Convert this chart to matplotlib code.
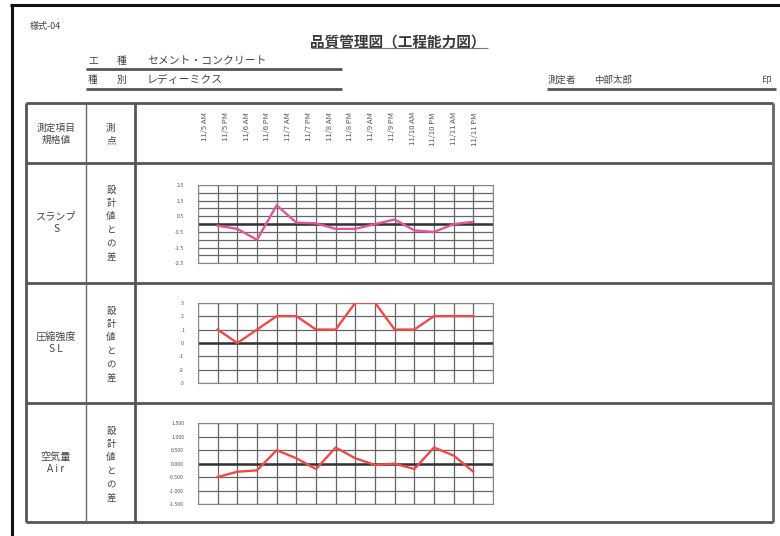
import matplotlib
matplotlib.use("Agg")
import matplotlib.pyplot as plt
from matplotlib.lines import Line2D

plt.rcParams['font.family'] = ['Noto Sans CJK JP', 'DejaVu Sans']

# ---- data ----
dates = ["11/5 AM", "11/5 PM", "11/6 AM", "11/6 PM", "11/7 AM", "11/7 PM",
         "11/8 AM", "11/8 PM", "11/9 AM", "11/9 PM", "11/10 AM", "11/10 PM",
         "11/11 AM", "11/11 PM"]
slump = [-0.1, -0.3, -1.0, 1.2, 0.1, 0.05, -0.3, -0.3, 0.0, 0.3, -0.4, -0.5, 0.0, 0.15]
strength = [1, 0, 1, 2, 2, 1, 1, 3, 3, 1, 1, 2, 2, 2]
air = [-0.5, -0.3, -0.25, 0.5, 0.2, -0.2, 0.6, 0.2, -0.05, 0.0, -0.2, 0.6, 0.3, -0.3]

slump_ticks = [2.5, 1.5, 0.5, -0.5, -1.5, -2.5]
slump_labels = ["2.5", "1.5", "0.5", "-0.5", "-1.5", "-2.5"]
strength_ticks = [3, 2, 1, 0, -1, -2, -3]
strength_labels = ["3", "2", "1", "0", "-1", "-2", "-3"]
air_ticks = [1.5, 1.0, 0.5, 0.0, -0.5, -1.0, -1.5]
air_labels = ["1.500", "1.000", "0.500", "0.000", "-0.500", "-1.000", "-1.500"]

row_items = ["スランプ\nS", "圧縮強度\nS L", "空気量\nA i r"]
row_sub = "設計値との差"

W, H = 780, 536
fig = plt.figure(figsize=(W / 100, H / 100), dpi=100)
fig.patch.set_facecolor("white")


def fx(x):
    return x / W


def fy(y):
    return 1 - y / H


def hline(x0, x1, y, lw=1.0, color="#555555"):
    fig.add_artist(Line2D([fx(x0), fx(x1)], [fy(y), fy(y)], lw=lw, color=color,
                          transform=fig.transFigure, solid_capstyle="butt"))


def vline(x, y0, y1, lw=1.0, color="#555555"):
    fig.add_artist(Line2D([fx(x), fx(x)], [fy(y0), fy(y1)], lw=lw, color=color,
                          transform=fig.transFigure, solid_capstyle="butt"))


def txt(x, y, s, size=6, **kw):
    kw.setdefault("ha", "left")
    kw.setdefault("va", "center")
    kw.setdefault("color", "#444444")
    fig.text(fx(x), fy(y), s, fontsize=size, **kw)


# outer frame (top and left)
hline(10, 780, 5, lw=2.2, color="#111111")
vline(12, 4, 536, lw=2.2, color="#111111")

# header texts
txt(30, 27, "様式-04", size=6.5)
txt(398, 42, "品質管理図（工程能力図）", size=10.5, ha="center", fontweight="bold", color="#3a3a3a")
hline(311, 488, 48, lw=0.8, color="#777777")
txt(88, 61, "工", size=7)
txt(117, 61, "種", size=7)
txt(147, 61, "セメント・コンクリート", size=7.8)
hline(86, 342, 69, lw=2.0, color="#555555")
txt(88, 80, "種", size=7)
txt(117, 80, "別", size=7)
txt(147, 80, "レディーミクス", size=7.8)
hline(86, 342, 89, lw=2.0, color="#555555")
txt(548, 80, "測定者", size=6.8)
txt(594, 80, "中部太郎", size=6.8)
txt(762, 80, "印", size=6.8)
hline(547, 776, 89, lw=2.0, color="#555555")

# table grid
tl, tr, tt, tb = 26, 773, 103, 522
rows = [103, 163, 283, 403, 522]
for y in rows:
    hline(tl, tr, y, lw=2.0, color="#555555")
vline(tl, tt, tb, lw=2.0, color="#555555")
vline(tr, tt, tb, lw=2.0, color="#666666")
vline(86, tt, tb, lw=1.0, color="#666666")
vline(135, tt, tb, lw=2.0, color="#555555")

# header cells
txt(56, 134, "測定項目\n規格値", size=7, ha="center", linespacing=1.3)
txt(111, 134, "測\n点", size=7, ha="center", linespacing=1.3)

# date header (rotated) via axes with its own scale
hax = fig.add_axes([fx(184.2), fy(160), fx(311.5), fy(108) - fy(160)])
hax.set_xlim(0, 15)
hax.set_ylim(0, 1)
hax.axis("off")
for i, d in enumerate(dates):
    hax.text(i + 1, 0.92, d, rotation=90, ha="center", va="top", fontsize=5.6,
             color="#555555")

# row labels
row_centers = [223, 343, 463]
sub_top = [190, 311, 431]
for rc, item, st in zip(row_centers, row_items, sub_top):
    txt(56, rc, item, size=7.3, ha="center", linespacing=1.35)
    for k, ch in enumerate(row_sub):
        txt(111, st + k * 13.4, ch, size=6.8, ha="center")

# charts
chart_specs = [
    (185, 263.3, slump, slump_ticks, slump_labels, (-2.5, 2.5), 0.5, "#e0559c"),
    (302.7, 383.3, strength, strength_ticks, strength_labels, (-3, 3), 1.0, "#ee4a4a"),
    (423.3, 504, air, air_ticks, air_labels, (-1.5, 1.5), 0.5, "#ee4a4a"),
]
xpos = list(range(1, len(dates) + 1))
for top, bot, vals, ticks, labels, ylim, step, col in chart_specs:
    ax = fig.add_axes([fx(198), fy(bot), fx(493) - fx(198), fy(top) - fy(bot)])
    ax.set_xlim(0, 15)
    ax.set_ylim(*ylim)
    ax.set_xticks(range(0, 16))
    ax.set_xticklabels([])
    n = int(round((ylim[1] - ylim[0]) / step))
    ax.set_yticks([ylim[0] + k * step for k in range(n + 1)], minor=True)
    ax.set_yticks(ticks)
    ax.set_yticklabels(labels)
    ax.tick_params(axis="both", which="both", length=0)
    ax.tick_params(axis="y", labelsize=3.8, labelcolor="#555555", pad=10)
    ax.grid(True, which="major", axis="x", color="#666666", lw=0.9)
    ax.grid(True, which="both", axis="y", color="#666666", lw=0.9)
    ax.axhline(0, color="#333333", lw=1.8, zorder=2)
    for s in ax.spines.values():
        s.set_color("#888888")
        s.set_linewidth(0.8)
    ax.plot(xpos, vals, color=col, lw=1.7, zorder=3)

fig.savefig("out.png", dpi=100, facecolor="white")
